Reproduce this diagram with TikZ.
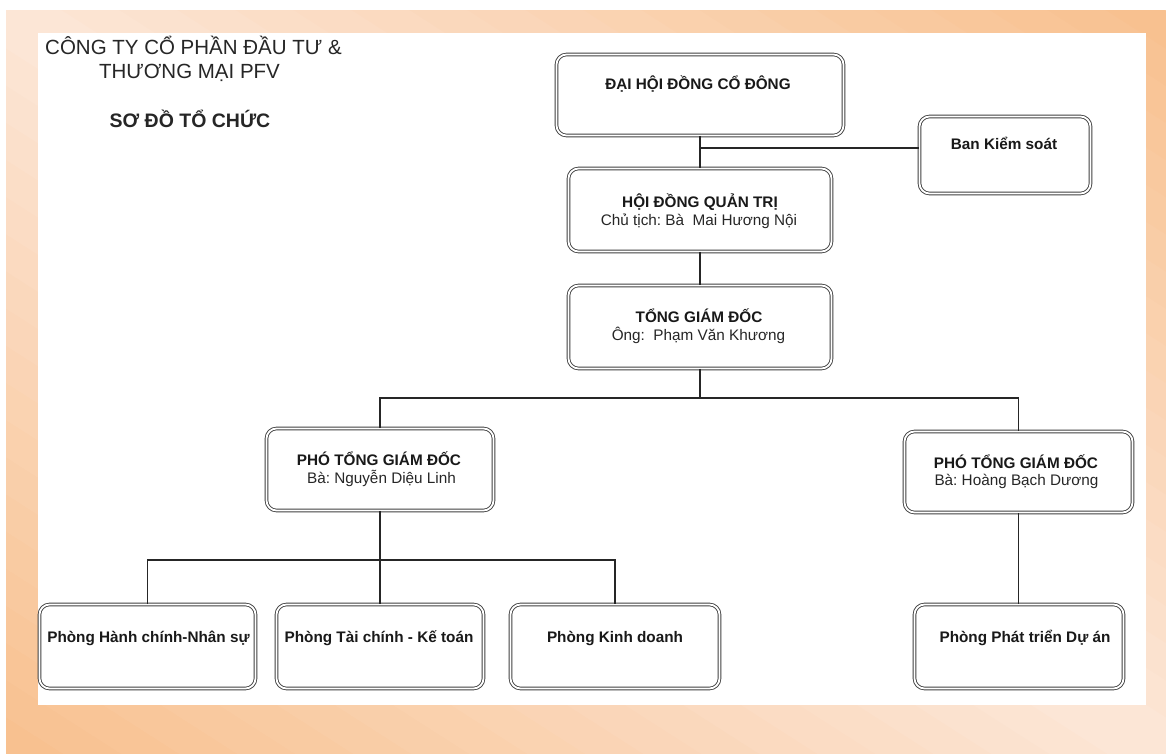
\documentclass[tikz,border=0pt]{standalone}
\usepackage{fontspec}
\setmainfont{Liberation Sans}
\frenchspacing
\definecolor{frameorange}{HTML}{F8C08E}
\definecolor{framepeach}{HTML}{FCE7D8}
\begin{document}
\begin{tikzpicture}[x=1pt, y=-1pt,
        orgbox/.style={draw=black!75, double=white, double distance=1.8pt, line width=0.9pt, rounded corners=10pt, fill=white, inner sep=0pt},
        wire/.style={black!85, line width=1.1pt},
        head/.style={text=black!85, anchor=base, inner sep=0pt, font=\fontsize{20.5}{24}\selectfont},
        boxtitle/.style={text=black!90, anchor=base, inner sep=0pt, font=\bfseries\fontsize{15.3}{18}\selectfont},
        boxsub/.style={text=black!85, anchor=base, inner sep=0pt, font=\fontsize{15.3}{18}\selectfont}]
        \useasboundingbox (0,0) rectangle (1166,754);
        \fill[white] (0,0) rectangle (1166,754);
        \begin{scope}[shift={(6,754)}, x=1160pt, y=743pt]
            \clip (0,0) rectangle (1,1);
            \foreach \k [evaluate=\k as \p using {100*(1-abs((\k+0.5)/20-1))}] in {0,...,39}
                \fill[framepeach!\p!frameorange, draw=framepeach!\p!frameorange, line width=0.6pt]
                    ({\k/20+1},-1) -- ({(\k+1)/20+1},-1) -- ({(\k+1)/20-2},2) -- ({\k/20-2},2) -- cycle;
        \end{scope}
        \fill[white] (38,33) rectangle (1146,705);

        \node[head] (head-a) at (193.5,55) {CÔNG TY CỔ PHẦN ĐẦU TƯ \&};
        \node[head] (head-b) at (189.5,79) {THƯƠNG MẠI PFV};
        \node[head, font=\bfseries\fontsize{19.5}{24}\selectfont] (chart-name) at (190,128) {SƠ ĐỒ TỔ CHỨC};

        \node[orgbox, minimum width=287pt, minimum height=81pt] (dhdcd) at (700,95) {};
        \node[orgbox, minimum width=171pt, minimum height=77pt] (bks) at (1005,155) {};
        \node[orgbox, minimum width=263pt, minimum height=83pt] (hdqt) at (700,210) {};
        \node[orgbox, minimum width=263pt, minimum height=83pt] (tgd) at (700,327) {};
        \node[orgbox, minimum width=227pt, minimum height=82pt] (ptgd-l) at (380,469.5) {};
        \node[orgbox, minimum width=228pt, minimum height=81pt] (ptgd-r) at (1018.5,472) {};
        \node[orgbox, minimum width=216pt, minimum height=84pt] (p-hcns) at (147.5,646.5) {};
        \node[orgbox, minimum width=207pt, minimum height=84pt] (p-tckt) at (380,646.5) {};
        \node[orgbox, minimum width=209pt, minimum height=84pt] (p-kd) at (615,646.5) {};
        \node[orgbox, minimum width=209pt, minimum height=84pt] (p-ptda) at (1019,646.5) {};

        \node[boxtitle] (dhdcd-t) at (698,90) {ĐẠI HỘI ĐỒNG CỔ ĐÔNG};
        \node[boxtitle] (bks-t) at (1004,150) {Ban Kiểm soát};
        \node[boxtitle] (hdqt-t) at (700,207) {HỘI ĐỒNG QUẢN TRỊ};
        \node[boxsub] (hdqt-s) at (699,225) {Chủ tịch: Bà\ \ Mai Hương Nội};
        \node[boxtitle] (tgd-t) at (699,322) {TỔNG GIÁM ĐỐC};
        \node[boxsub] (tgd-s) at (698.5,340) {Ông:\ \ Phạm Văn Khương};
        \node[boxtitle] (ptgd-l-t) at (379,465) {PHÓ TỔNG GIÁM ĐỐC};
        \node[boxsub] (ptgd-l-s) at (381.5,483) {Bà: Nguyễn Diệu Linh};
        \node[boxtitle] (ptgd-r-t) at (1016,468) {PHÓ TỔNG GIÁM ĐỐC};
        \node[boxsub] (ptgd-r-s) at (1016.5,485) {Bà: Hoàng Bạch Dương};
        \node[boxtitle] (p-hcns-t) at (148.5,642) {Phòng Hành chính-Nhân sự};
        \node[boxtitle] (p-tckt-t) at (379,642) {Phòng Tài chính - Kế toán};
        \node[boxtitle] (p-kd-t) at (615,642) {Phòng Kinh doanh};
        \node[boxtitle] (p-ptda-t) at (1025,642) {Phòng Phát triển Dự án};

        \coordinate (bks-j) at (700,148);
        \coordinate (tgd-bus) at (700,398);
        \coordinate (ptgd-bus) at (380,560);
        \draw[wire] (dhdcd) -- (hdqt);
        \draw[wire] (bks-j) -- (bks-j -| bks.west);
        \draw[wire] (hdqt) -- (tgd);
        \draw[wire] (tgd) -- (tgd-bus);
        \draw[wire] (ptgd-l.north) |- (tgd-bus) -| (ptgd-r.north);
        \draw[wire] (ptgd-l) -- (ptgd-bus);
        \draw[wire] (p-hcns.north) |- (ptgd-bus) -| (p-kd.north);
        \draw[wire] (ptgd-bus) -- (p-tckt);
        \draw[wire] (ptgd-r.south) -- (ptgd-r.south |- p-ptda.north);
    \end{tikzpicture}
\end{document}
